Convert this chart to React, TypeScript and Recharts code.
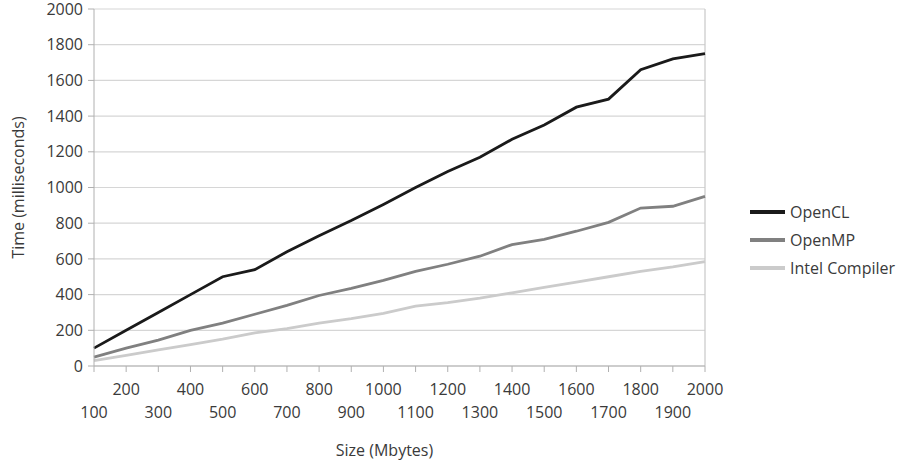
import { LineChart, Line, XAxis, YAxis, CartesianGrid, ReferenceLine } from "recharts";

const sizes = [100, 200, 300, 400, 500, 600, 700, 800, 900, 1000, 1100, 1200, 1300, 1400, 1500, 1600, 1700, 1800, 1900, 2000];
const openCL = [100, 200, 300, 400, 500, 540, 640, 730, 815, 905, 1000, 1090, 1170, 1270, 1350, 1450, 1495, 1660, 1720, 1750];
const openMP = [50, 100, 145, 200, 240, 290, 340, 395, 435, 480, 530, 570, 615, 680, 710, 755, 805, 885, 895, 950];
const intel = [30, 60, 90, 120, 150, 185, 210, 240, 265, 295, 335, 355, 380, 410, 440, 470, 500, 530, 555, 585];
const yTicks = [0, 200, 400, 600, 800, 1000, 1200, 1400, 1600, 1800, 2000];

const series = [
  { key: "openCL", name: "OpenCL", color: "#1a1a1a" },
  { key: "openMP", name: "OpenMP", color: "#808080" },
  { key: "intel", name: "Intel Compiler", color: "#cbcbcb" },
];

const data = sizes.map((s, i) => ({ size: s, openCL: openCL[i], openMP: openMP[i], intel: intel[i] }));

const FONT = "'Open Sans', sans-serif";
const TXT = "#3a3a3a";

// labels alternate between two rows, like the original spreadsheet chart
function StaggerTick({ x, y, payload }: any) {
  const low = payload.index % 2 === 0;
  return (
    <text x={x} y={y + (low ? 44 : 21)} textAnchor="middle" fill={TXT} fontSize={16} fontFamily={FONT}>
      {payload.value}
    </text>
  );
}

function LegendBox() {
  return (
    <div style={{ position: "absolute", left: 750, top: 198, fontFamily: FONT, fontSize: 16, color: TXT }}>
      {series.map((s) => (
        <div key={s.key} style={{ display: "flex", alignItems: "center", height: 28 }}>
          <div style={{ width: 35, height: 3.5, background: s.color, marginRight: 5 }} />
          <span>{s.name}</span>
        </div>
      ))}
    </div>
  );
}

export default function App() {
  return (
    <div style={{ position: "absolute", left: 0, top: 0, width: 905, height: 466, background: "#fff" }}>
      <LineChart width={905} height={466} data={data} margin={{ top: 9, right: 200, bottom: 0, left: 34 }}>
        <CartesianGrid vertical={false} stroke="#d6d6d6" strokeWidth={1.2} />
        <ReferenceLine x={2000} stroke="#c8c8c8" strokeWidth={1.2} />
        <XAxis
          dataKey="size"
          interval={0}
          height={100}
          tick={<StaggerTick />}
          tickLine={{ stroke: "#b0b0b0" }}
          tickSize={6}
          axisLine={{ stroke: "#b0b0b0" }}
          label={{ value: "Size (Mbytes)", position: "insideBottom", offset: 10, dx: -15, fill: TXT, fontSize: 16, fontFamily: FONT }}
        />
        <YAxis
          domain={[0, 2000]}
          ticks={yTicks}
          width={60}
          tick={{ fill: TXT, fontSize: 16, fontFamily: FONT }}
          tickLine={{ stroke: "#b0b0b0" }}
          tickSize={6}
          tickMargin={5}
          axisLine={{ stroke: "#b0b0b0" }}
          label={{ value: "Time (milliseconds)", angle: -90, position: "insideLeft", offset: -16, fill: TXT, fontSize: 16, fontFamily: FONT, style: { textAnchor: "middle" } }}
        />
        {series.map((s) => (
          <Line key={s.key} dataKey={s.key} name={s.name} stroke={s.color} strokeWidth={2.8} dot={false} type="linear" isAnimationActive={false} />
        ))}
      </LineChart>
      <LegendBox />
    </div>
  );
}
